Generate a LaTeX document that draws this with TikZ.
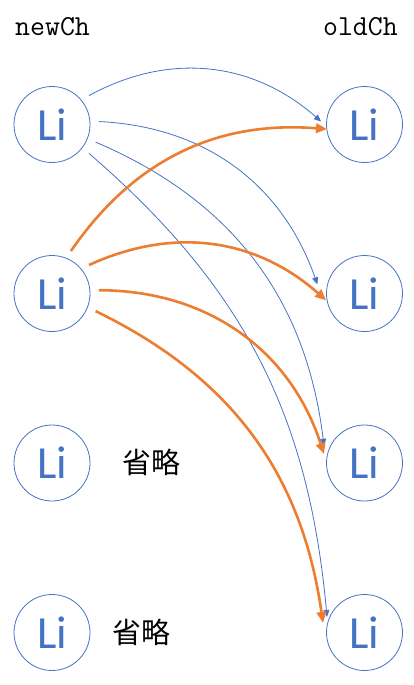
\documentclass[tikz,border=0pt]{standalone}
\usepackage{fontspec}
\newfontfamily\cjk{Noto Sans CJK SC}
\newfontfamily\lifont{Carlito}
\usetikzlibrary{arrows.meta,calc}
\definecolor{liblue}{HTML}{4472C4}
\definecolor{liorange}{HTML}{ED7D31}
\begin{document}
\begin{tikzpicture}[x=1pt,y=1pt,
  linode/.style={circle,draw=liblue,line width=0.8pt,minimum size=76pt,inner sep=0pt,text=liblue,font=\lifont\fontsize{46}{50}\selectfont},
  bluearr/.style={draw=liblue,line width=0.8pt,-{Triangle[length=7pt,width=6pt]}},
  orangearr/.style={draw=liorange,line width=2.6pt,-{Triangle[length=11pt,width=9.5pt]}},
  header/.style={font=\ttfamily\fontsize{29}{32}\selectfont,inner sep=0pt},
  omittext/.style={font=\cjk\fontsize{29}{32}\selectfont,inner sep=0pt}]
\useasboundingbox (0,0) rectangle (414,-685);
\node[header,anchor=base west] (hnew) at (15,-36) {newCh};
\node[header,anchor=base east] (hold) at (398,-36) {oldCh};
\node[linode] (l1) at (52,-124.5) {Li};
\node[linode] (l2) at (52,-293.5) {Li};
\node[linode] (l3) at (52,-463) {Li};
\node[linode] (l4) at (52,-632.5) {Li};
\node[linode] (r1) at (364.5,-124.5) {Li};
\node[linode] (r2) at (364.5,-293.5) {Li};
\node[linode] (r3) at (364.5,-463) {Li};
\node[linode] (r4) at (364.5,-632.5) {Li};
\node[omittext] (o3) at (151,-462) {省略};
\node[omittext] (o4) at (141,-632) {省略};
\draw[bluearr] ($(l1)+(38:47)$) to[bend left=35] ($(r1)+(176:43.6)$);
\draw[bluearr] ($(l1)+(3.6:47)$) to[bend left=34] ($(r2)+(169:48)$);
\draw[bluearr] ($(l1)+(-22:47)$) to[bend left=30] ($(r3)+(157:44)$);
\draw[bluearr] ($(l1)+(-38:47)$) to[bend left=22] ($(r4)+(157.5:40.6)$);
\draw[orangearr] ($(l2)+(66:46.5)$) to[bend left=30] ($(r1)+(187:37.8)$);
\draw[orangearr] ($(l2)+(37.6:46.7)$) to[bend left=33] ($(r2)+(190:39)$);
\draw[orangearr] ($(l2)+(4:47)$) to[bend left=36] ($(r3)+(167.5:41.5)$);
\draw[orangearr] ($(l2)+(-22:47)$) to[bend left=28] ($(r4)+(167:42.6)$);
\end{tikzpicture}
\end{document}
